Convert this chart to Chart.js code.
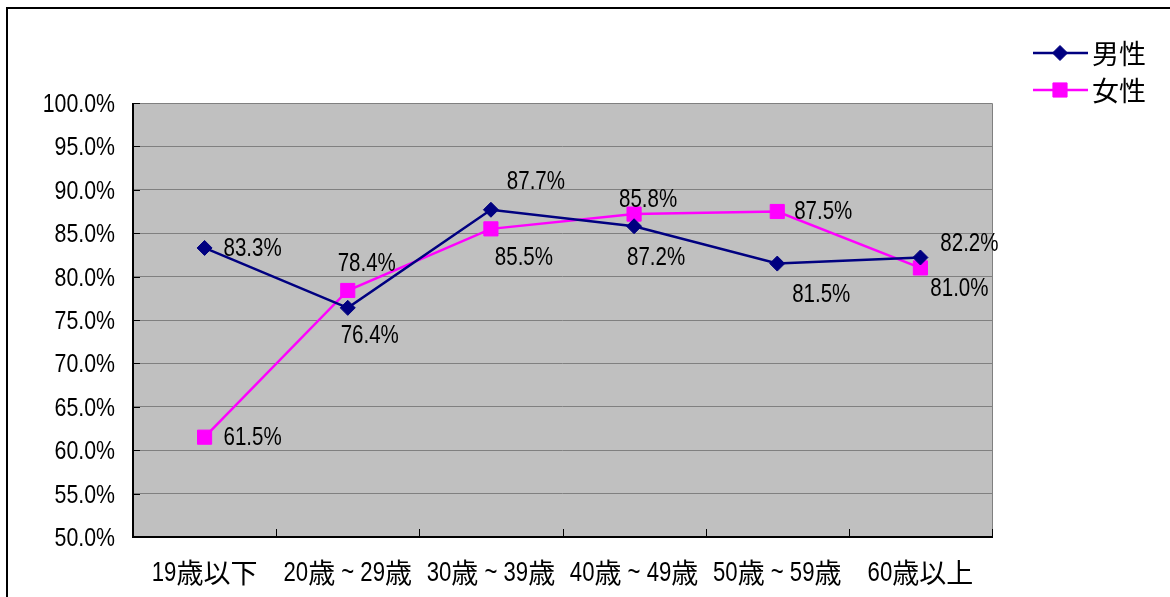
<!DOCTYPE html>
<html>
<head>
<meta charset="utf-8">
<script src="https://cdn.jsdelivr.net/npm/chart.js@4.4.1/dist/chart.umd.min.js"></script>
<style>
html,body{margin:0;padding:0;background:#fff;}
#wrap{position:relative;width:1170px;height:597px;}
</style>
</head>
<body>
<div id="wrap"><canvas id="c" width="1170" height="597"></canvas></div>
<script>
// ---- data ----
const categories = ['19歳以下', '20歳 ~ 29歳', '30歳 ~ 39歳', '40歳 ~ 49歳', '50歳 ~ 59歳', '60歳以上'];
const seriesNames = ['男性', '女性'];
const maleValues = [83.3, 76.4, 87.7, 85.8, 81.5, 82.2];
const femaleValues = [61.5, 78.4, 85.5, 87.2, 87.5, 81.0];
const yMin = 50, yMax = 100, yStep = 5;

// ---- layout / style (not data) ----
const LATIN = "'Liberation Sans', Arial, sans-serif";
const CJK = "'Noto Sans CJK JP', sans-serif";
const NARROW = 0.82;
const LABEL_OFFSETS = [
  [[48,0],[22,27],[45,-29],[14,-27],[44,31],[49,-14]],
  [[48,0],[19,-27],[33,28],[22,43],[46,0],[39,20]]
];

const CJK_RE = /[\u3000-\u9fff\uff00-\uffef]+|[^\u3000-\u9fff\uff00-\uffef]+/g;
function segs(ctx, text, size) {
  return (text.match(CJK_RE) || []).map((s) => {
    const isCjk = /[\u3000-\u9fff\uff00-\uffef]/.test(s);
    ctx.font = isCjk ? (size + 'px ' + CJK) : (size + 'px ' + LATIN);
    const w = ctx.measureText(s).width * (isCjk ? 1 : NARROW);
    return { s, isCjk, w };
  });
}
function drawMixed(ctx, text, x, y, size, align) {
  const parts = segs(ctx, text, size);
  const total = parts.reduce((a, p) => a + p.w, 0);
  let cx = align === 'center' ? x - total / 2 : align === 'right' ? x - total : x;
  ctx.textAlign = 'left';
  ctx.textBaseline = 'middle';
  parts.forEach((p) => {
    ctx.save();
    if (p.isCjk) {
      ctx.font = size + 'px ' + CJK;
      ctx.fillText(p.s, cx, y);
    } else {
      ctx.font = size + 'px ' + LATIN;
      ctx.translate(cx, y + 1);
      ctx.scale(NARROW, 1);
      ctx.fillText(p.s, 0, 0);
    }
    ctx.restore();
    cx += p.w;
  });
}

const framePlugin = {
  id: 'frame',
  beforeDraw(chart) {
    const ctx = chart.ctx, a = chart.chartArea;
    ctx.save();
    ctx.fillStyle = '#ffffff';
    ctx.fillRect(0, 0, chart.width, chart.height);
    ctx.strokeStyle = '#000';
    ctx.lineWidth = 2;
    ctx.beginPath();
    ctx.moveTo(7, chart.height);
    ctx.lineTo(7, 8);
    ctx.lineTo(chart.width, 8);
    ctx.stroke();
    ctx.fillStyle = '#c0c0c0';
    ctx.fillRect(a.left, a.top, a.right - a.left, a.bottom - a.top);
    ctx.restore();
  },
  beforeDatasetsDraw(chart) {
    const ctx = chart.ctx, a = chart.chartArea;
    ctx.save();
    ctx.lineWidth = 1;
    ctx.strokeStyle = '#808080';
    ctx.beginPath();
    ctx.moveTo(Math.round(a.left) + 0.5, Math.round(a.top) + 0.5);
    ctx.lineTo(Math.round(a.right) + 0.5, Math.round(a.top) + 0.5);
    ctx.lineTo(Math.round(a.right) + 0.5, Math.round(a.bottom) + 0.5);
    ctx.stroke();
    ctx.strokeStyle = '#000';
    ctx.lineWidth = 2;
    ctx.beginPath();
    ctx.moveTo(Math.round(a.left), Math.round(a.top));
    ctx.lineTo(Math.round(a.left), Math.round(a.bottom));
    ctx.lineTo(Math.round(a.right) + 1, Math.round(a.bottom));
    ctx.stroke();
    ctx.lineWidth = 1;
    const ys = chart.scales.y;
    ctx.fillStyle = '#000';
    ys.ticks.forEach((t) => {
      const y = Math.round(ys.getPixelForValue(t.value)) + 0.5;
      ctx.beginPath();
      ctx.moveTo(a.left, y);
      ctx.lineTo(a.left + 7, y);
      ctx.stroke();
      drawMixed(ctx, t.value.toFixed(1) + '%', a.left - 18, y, 26, 'right');
    });
    const n = categories.length;
    const w = (a.right - a.left) / n;
    for (let k = 1; k <= n; k++) {
      const x = Math.round(a.left + k * w) + 0.5;
      ctx.beginPath();
      ctx.moveTo(x, a.bottom);
      ctx.lineTo(x, a.bottom - 8);
      ctx.stroke();
    }
    const xs = chart.scales.x;
    categories.forEach((c, i) => {
      drawMixed(ctx, c, xs.getPixelForValue(i), a.bottom + 36, 27, 'center');
    });
    ctx.restore();
  },
  afterDatasetsDraw(chart) {
    const ctx = chart.ctx;
    ctx.save();
    ctx.fillStyle = '#000';
    chart.data.datasets.forEach((ds, di) => {
      const meta = chart.getDatasetMeta(di);
      meta.data.forEach((pt, i) => {
        const off = LABEL_OFFSETS[di][i];
        drawMixed(ctx, ds.data[i].toFixed(1) + '%', pt.x + off[0], pt.y + off[1], 25, 'center');
      });
    });
    const rows = [53, 90];
    chart.data.datasets.forEach((ds, di) => {
      const y = rows[di];
      ctx.strokeStyle = ds.borderColor;
      ctx.lineWidth = 2.5;
      ctx.beginPath();
      ctx.moveTo(1033, y);
      ctx.lineTo(1088, y);
      ctx.stroke();
      ctx.fillStyle = ds.pointBackgroundColor;
      ctx.lineWidth = 1;
      Chart.helpers.drawPoint(ctx, { pointStyle: ds.pointStyle, radius: ds.pointRadius, borderWidth: 1 }, 1060, y);
      ctx.fillStyle = '#000';
      drawMixed(ctx, ds.label, 1092, y + 1, 27, 'left');
    });
    ctx.restore();
  }
};

new Chart(document.getElementById('c'), {
  type: 'line',
  data: {
    labels: categories,
    datasets: [
      {
        label: seriesNames[0], data: maleValues,
        borderColor: '#000080', backgroundColor: '#000080',
        pointBackgroundColor: '#000080', pointBorderColor: '#000080',
        borderWidth: 2.5, pointStyle: 'rectRot', pointRadius: 7.5, pointBorderWidth: 1,
        tension: 0, fill: false
      },
      {
        label: seriesNames[1], data: femaleValues,
        borderColor: '#ff00ff', backgroundColor: '#ff00ff',
        pointBackgroundColor: '#ff00ff', pointBorderColor: '#ff00ff',
        borderWidth: 2.5, pointStyle: 'rect', pointRadius: 10, pointBorderWidth: 1,
        tension: 0, fill: false
      }
    ]
  },
  options: {
    responsive: false,
    animation: false,
    devicePixelRatio: 1,
    layout: { padding: { left: 0, top: 103, right: 178, bottom: 0 } },
    plugins: { legend: { display: false }, tooltip: { enabled: false } },
    scales: {
      x: {
        offset: true,
        grid: { display: false, drawTicks: false },
        border: { display: false },
        ticks: { display: false },
        afterFit(s) { s.height = 60; }
      },
      y: {
        min: yMin, max: yMax,
        grid: { color: '#808080', lineWidth: 1, drawTicks: false },
        border: { display: false },
        ticks: { stepSize: yStep, display: false },
        afterFit(s) { s.width = 133; }
      }
    }
  },
  plugins: [framePlugin]
});
</script>
</body>
</html>
